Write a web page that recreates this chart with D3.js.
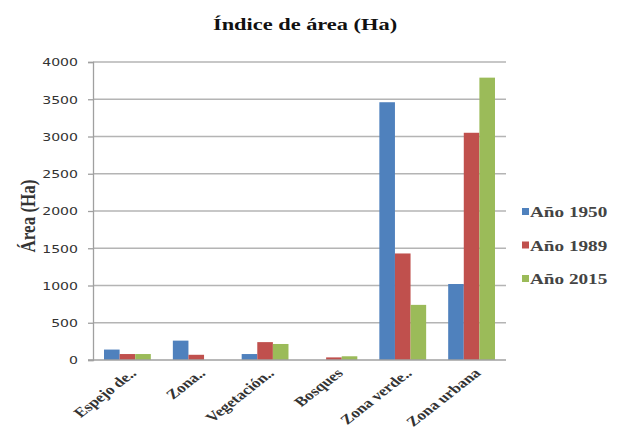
<!DOCTYPE html>
<html><head><meta charset="utf-8">
<script src="https://cdn.jsdelivr.net/npm/d3@7"></script>
<style>html,body{margin:0;padding:0;background:#fff;}svg{display:block;}</style>
</head><body>
<svg id="c" width="618" height="440"></svg>
<script>
const categories = ["Espejo de..", "Zona..", "Vegetación..", "Bosques", "Zona verde..", "Zona urbana"];
const seriesNames = ["Año 1950", "Año 1989", "Año 2015"];
const values1950 = [140, 260, 80, 0, 3460, 1020];
const values1989 = [80, 70, 240, 35, 1430, 3050];
const values2015 = [80, 0, 215, 50, 740, 3790];
const yTicks = [0, 500, 1000, 1500, 2000, 2500, 3000, 3500, 4000];
const colors = ["#4F81BD", "#C0504D", "#9BBB59"];
const title = "Índice de área (Ha)";
const yTitle = "Área (Ha)";

const series = [values1950, values1989, values2015];
const SX = 1.28; // horizontal stretch of the reference's text
const serif = "'Liberation Serif','Times New Roman',serif";

const svg = d3.select("#c");
const pLeft = 93, pRight = 506, pTop = 62, pBottom = 360;

const x0 = d3.scaleBand().domain(categories).range([pLeft, pRight]).paddingInner(0.32).paddingOuter(0.16);
const x1 = d3.scaleBand().domain(d3.range(series.length)).range([0, x0.bandwidth()]);
const y = d3.scaleLinear().domain([0, 4000]).range([pBottom, pTop]);

// gridlines
svg.append("g").selectAll("line").data(yTicks.filter(d => d > 0)).join("line")
  .attr("x1", pLeft).attr("x2", pRight)
  .attr("y1", d => y(d)).attr("y2", d => y(d))
  .attr("stroke", "#b4b4b4").attr("stroke-width", 1.3);

// y axis
const yAxis = d3.axisLeft(y).tickValues(yTicks).tickSize(5).tickPadding(10).tickFormat(d3.format("d"));
const ga = svg.append("g").attr("transform", `translate(${pLeft},0)`).call(yAxis);
ga.select(".domain").attr("stroke", "#a0a0a0").attr("stroke-width", 1.3);
ga.selectAll(".tick line").attr("stroke", "#a0a0a0").attr("stroke-width", 1.3);
ga.selectAll(".tick text")
  .attr("font-family", "'DejaVu Sans',Verdana,sans-serif").attr("font-size", 11).attr("fill", "#333")
  .attr("x", null).attr("dy", "0.35em")
  .attr("transform", `translate(${-15},0) scale(${SX},1)`);

// bars
svg.append("g").selectAll("g").data(series).join("g")
  .attr("fill", (d, i) => colors[i])
  .each(function(vals, si) {
    d3.select(this).selectAll("rect").data(vals).join("rect")
      .attr("x", (v, ci) => x0(categories[ci]) + x1(si))
      .attr("width", x1.bandwidth())
      .attr("y", v => y(v))
      .attr("height", v => y(0) - y(v));
  });

// x axis baseline
svg.append("line").attr("x1", pLeft - 5).attr("x2", pRight).attr("y1", pBottom).attr("y2", pBottom)
  .attr("stroke", "#a0a0a0").attr("stroke-width", 1.3);

// category labels
svg.append("g").selectAll("text").data(categories).join("text")
  .attr("transform", d => `translate(${x0(d) + x0.bandwidth() / 2 + 10},374) scale(${SX},1) rotate(-45)`)
  .attr("text-anchor", "end")
  .attr("font-family", serif).attr("font-weight", "bold").attr("font-size", 13.5).attr("fill", "#333")
  .text(d => d);

// title
svg.append("text")
  .attr("transform", `translate(305,30) scale(${SX},1)`)
  .attr("text-anchor", "middle")
  .attr("font-family", serif).attr("font-weight", "bold").attr("font-size", 17.5).attr("fill", "#111")
  .text(title);

// y title
svg.append("text")
  .attr("transform", `translate(35,216) scale(${SX},1) rotate(-90)`)
  .attr("text-anchor", "middle")
  .attr("font-family", serif).attr("font-weight", "bold").attr("font-size", 17).attr("fill", "#333")
  .text(yTitle);

// legend
const lg = svg.append("g").selectAll("g").data(seriesNames).join("g")
  .attr("transform", (d, i) => `translate(522,${212 + i * 33.5})`);
lg.append("rect").attr("x", 0).attr("y", -4).attr("width", 7).attr("height", 7)
  .attr("fill", (d, i) => colors[i]);
lg.append("text").attr("transform", `translate(8,0) scale(${SX},1)`).attr("dy", "0.35em")
  .attr("font-family", serif).attr("font-weight", "bold").attr("font-size", 15).attr("fill", "#444")
  .text(d => d);
</script>
</body></html>
